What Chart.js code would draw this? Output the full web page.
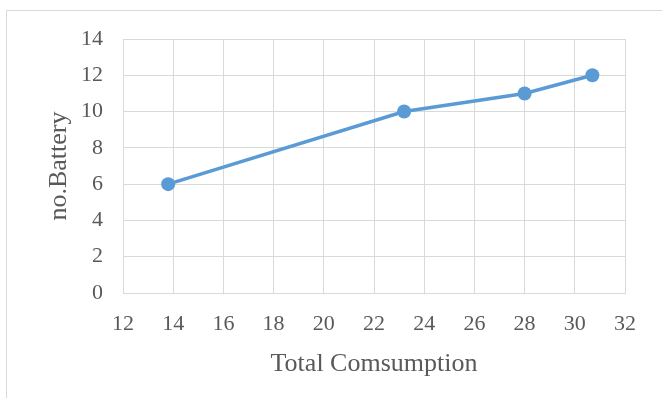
<!DOCTYPE html>
<html>
<head>
<meta charset="utf-8">
<script src="https://cdn.jsdelivr.net/npm/chart.js@4"></script>
<style>
  html, body { margin: 0; padding: 0; background: #ffffff; }
  #wrap { width: 662px; height: 398px; position: relative; }
</style>
</head>
<body>
<div id="wrap"><canvas id="c" width="662" height="398"></canvas></div>
<script>
// Total consumption vs. number of batteries
const totalConsumption = [13.8, 23.2, 28, 30.7];
const batteryCount = [6, 10, 11, 12];
const xTicks = [12, 14, 16, 18, 20, 22, 24, 26, 28, 30, 32];
const yTicks = [0, 2, 4, 6, 8, 10, 12, 14];

const points = totalConsumption.map((x, i) => ({ x: x, y: batteryCount[i] }));

const gridColor = '#d9d9d9';
const textColor = '#595959';
const serif = '"Liberation Serif", "Times New Roman", serif';

// light frame around the chart
const framePlugin = {
  id: 'frame',
  beforeDraw(chart) {
    const ctx = chart.ctx;
    ctx.save();
    ctx.fillStyle = '#ffffff';
    ctx.fillRect(0, 0, chart.width, chart.height);
    ctx.strokeStyle = gridColor;
    ctx.lineWidth = 1;
    ctx.beginPath();
    ctx.moveTo(6.5, chart.height);
    ctx.lineTo(6.5, 10.5);
    ctx.lineTo(chart.width, 10.5);
    ctx.stroke();
    ctx.restore();
  }
};

new Chart(document.getElementById('c'), {
  type: 'scatter',
  data: {
    datasets: [{
      data: points,
      showLine: true,
      borderColor: '#5b9bd5',
      backgroundColor: '#5b9bd5',
      borderWidth: 3.5,
      pointRadius: 7,
      pointHoverRadius: 7,
      pointBorderWidth: 0,
      tension: 0
    }]
  },
  options: {
    responsive: false,
    animation: false,
    events: [],
    layout: { padding: { left: 0, top: 39, right: 37, bottom: 0 } },
    plugins: {
      legend: { display: false },
      tooltip: { enabled: false }
    },
    scales: {
      x: {
        type: 'linear',
        min: 12,
        max: 32,
        afterBuildTicks(scale) { scale.ticks = xTicks.map(v => ({ value: v })); },
        afterFit(scale) { scale.height = 105; },
        grid: { color: gridColor, lineWidth: 1, drawTicks: false },
        border: { color: gridColor, width: 1 },
        ticks: { color: textColor, padding: 18, font: { family: serif, size: 22 } },
        title: {
          display: true,
          text: 'Total Comsumption',
          color: textColor,
          font: { family: serif, size: 26 },
          padding: { top: 18, bottom: 18 }
        }
      },
      y: {
        type: 'linear',
        min: 0,
        max: 14,
        afterBuildTicks(scale) { scale.ticks = yTicks.map(v => ({ value: v })); },
        afterFit(scale) { scale.width = 123; },
        grid: { color: gridColor, lineWidth: 1, drawTicks: false },
        border: { color: gridColor, width: 1 },
        ticks: { color: textColor, padding: 20, font: { family: serif, size: 22 } },
        title: {
          display: true,
          text: 'no.Battery',
          color: textColor,
          font: { family: serif, size: 26 },
          padding: { top: 44, bottom: 44 }
        }
      }
    }
  },
  plugins: [framePlugin]
});
</script>
</body>
</html>
